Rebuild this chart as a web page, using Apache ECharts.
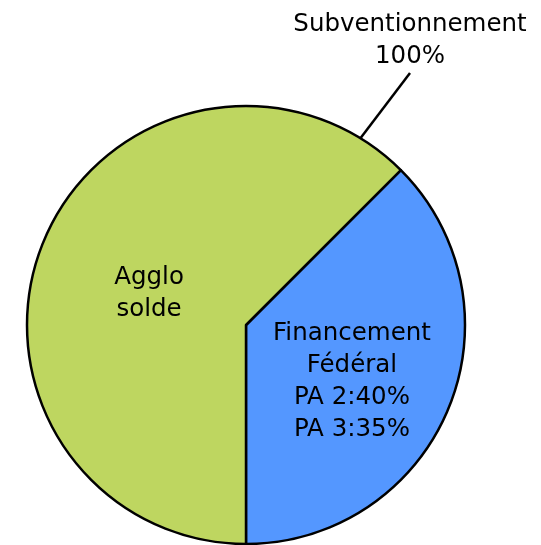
<!DOCTYPE html>
<html>
<head>
<meta charset="utf-8">
<script src="https://cdn.jsdelivr.net/npm/echarts@6/dist/echarts.min.js"></script>
<style>
  html, body { margin: 0; padding: 0; background: #fff; }
  #chart { width: 541px; height: 545px; }
</style>
</head>
<body>
<div id="chart"></div>
<script>
// slices, clockwise from the upper right boundary
const categories = ['Financement Fédéral', 'Agglo solde'];
const shares = [37.5, 62.5];
const sliceLabels = ['Financement\nFédéral\nPA 2:40%\nPA 3:35%', 'Agglo\nsolde'];
const sliceColors = ['#5497ff', '#bed660'];

// annotation for the whole pie
const totalName = 'Subventionnement';
const totalValue = 100;

const FONT = 'DejaVu Sans, Verdana, sans-serif';
const center = [246, 325];
const radius = 219;

const chart = echarts.init(document.getElementById('chart'));

chart.setOption({
  animation: false,
  series: [
    {
      // invisible full circle, only carries the outer label + leader line
      type: 'pie',
      center: center,
      radius: radius,
      startAngle: 238.5,
      silent: true,
      z: 1,
      avoidLabelOverlap: false,
      itemStyle: { color: 'transparent', borderWidth: 0 },
      label: {
        show: true,
        position: 'outside',
        formatter: '{b}\n{d}%',
        fontFamily: FONT,
        fontSize: 24.5,
        lineHeight: 32,
        color: '#000'
      },
      labelLine: {
        show: true,
        length: 70,
        length2: 0,
        lineStyle: { color: '#000', width: 2.5 }
      },
      labelLayout: { x: 410, y: 41, align: 'center', verticalAlign: 'middle' },
      emphasis: { disabled: true },
      data: [{ name: totalName, value: totalValue }]
    },
    {
      type: 'pie',
      center: center,
      radius: radius,
      startAngle: 45,
      clockwise: true,
      silent: true,
      z: 2,
      avoidLabelOverlap: false,
      itemStyle: { borderColor: '#000', borderWidth: 2.5 },
      label: {
        show: true,
        position: 'inside',
        fontFamily: FONT,
        fontSize: 24.5,
        lineHeight: 32,
        color: '#000'
      },
      labelLine: { show: false },
      emphasis: { disabled: true },
      data: categories.map((name, i) => ({
        name: name,
        value: shares[i],
        itemStyle: { color: sliceColors[i] },
        label: {
          formatter: sliceLabels[i],
          offset: i === 0 ? [2, 14] : [7, 12]
        }
      }))
    }
  ]
});
</script>
</body>
</html>
